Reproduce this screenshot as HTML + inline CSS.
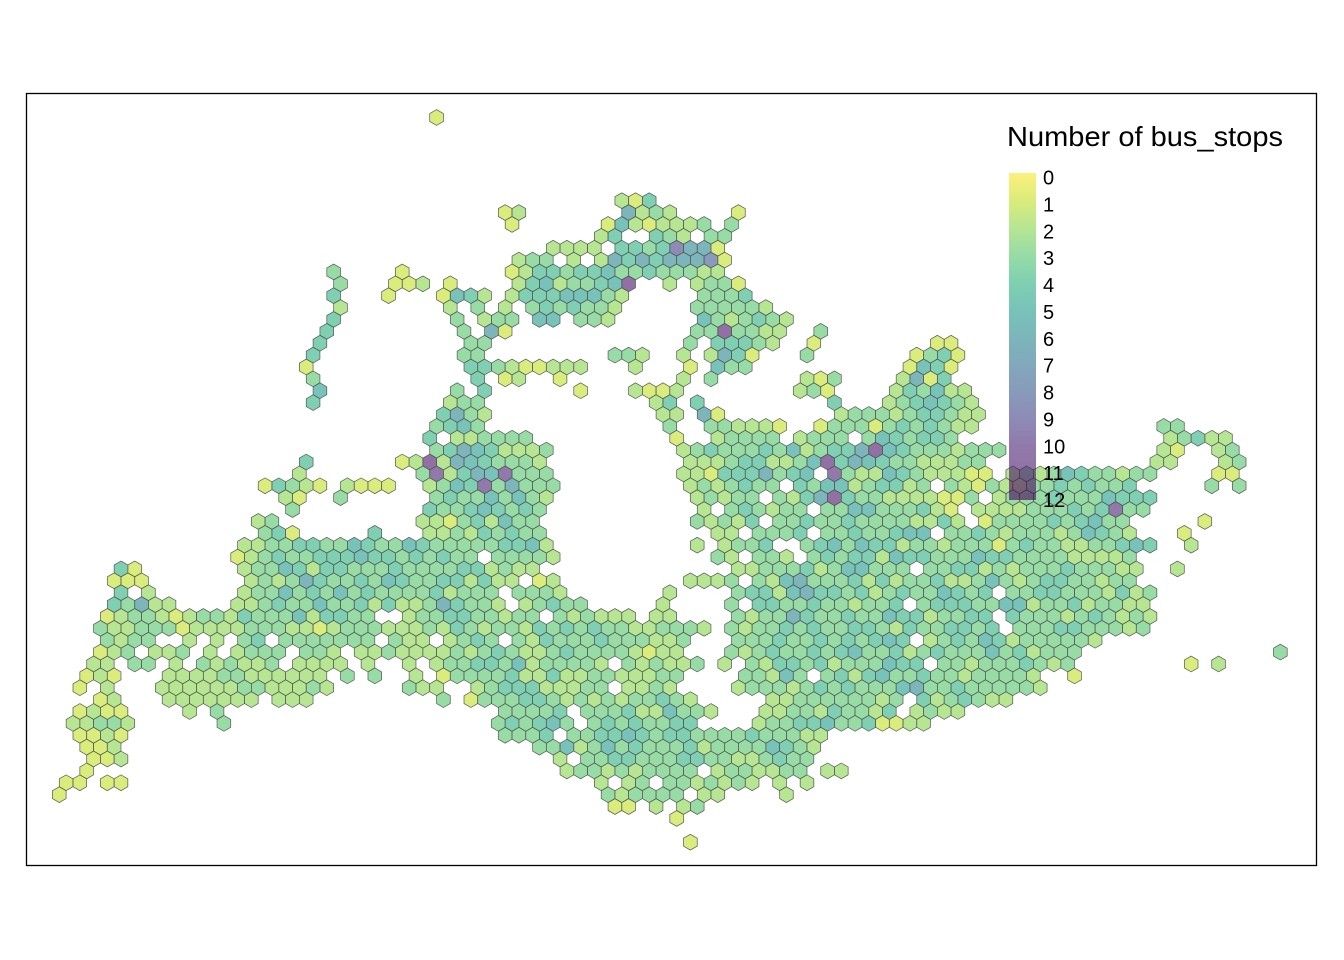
<!DOCTYPE html>
<html><head><meta charset="utf-8"><style>
html,body{margin:0;padding:0;background:#fff;}
svg{display:block;font-family:"Liberation Sans",Arial,sans-serif;}
</style></head><body>
<svg id="chart" width="1344" height="960" viewBox="0 0 1344 960">
<rect x="26.5" y="93.5" width="1290" height="772" fill="#fff" stroke="#000" stroke-width="1.3"/>
<g id="hexes"></g>
<g id="legend">
<text x="1007" y="146" font-size="27.5" textLength="276" lengthAdjust="spacingAndGlyphs" fill="#000">Number of bus_stops</text>
<defs><linearGradient id="vg" x1="0" y1="0" x2="0" y2="1"></linearGradient></defs>
<rect x="1009" y="173" width="27" height="327" fill="url(#vg)" fill-opacity="0.6"/>
<g id="legend-labels"></g>
</g>
</svg>
<script>
// hex cells: [row, startColumn, values string] ('.' = no hex, a=10, b=11, c=12)
const hexRows = [
[0,28,"1"],
[7,41,"214"],
[8,33,"12"],[8,42,"6232"],[8,50,"1"],
[9,33,"1"],[9,40,"15212223"],[9,49,"3"],
[10,40,"24"],[10,44,"432"],[10,48,"33"],
[11,36,"2222"],[11,41,"44349661"],
[12,34,"23"],[12,36,"3"],[12,38,"2"],[12,40,"2646466681"],
[13,20,"3"],[13,25,"1"],[13,33,"1244344533433322"],
[14,21,"3"],[14,25,"112"],[14,29,"1"],[14,34,"24523345b"],[14,45,"2"],[14,47,"2331"],
[15,20,"4"],[15,24,"1"],[15,28,"1542"],[15,33,"244455532"],[15,47,"3334"],
[16,21,"2"],[16,29,"2"],[16,31,"3"],[16,33,"2"],[16,35,"3434332"],[16,47,"333332"],
[17,20,"4"],[17,29,"3"],[17,31,"233"],[17,35,"55"],[17,38,"332"],[17,47,"5323432"],
[18,20,"4"],[18,30,"3"],[18,32,"61"],[18,47,"33b3322"],[18,56,"3"],
[19,19,"4"],[19,30,"33"],[19,46,"3"],[19,48,"44432"],[19,55,"1"],[19,64,"11"],
[20,19,"4"],[20,30,"33"],[20,41,"332"],[20,46,"2"],[20,48,"2641"],[20,55,"3"],[20,63,"1341"],
[21,18,"1"],[21,30,"443211222"],[21,42,"2"],[21,46,"1"],[21,48,"533"],[21,62,"1541"],
[22,19,"3"],[22,31,"4"],[22,33,"12"],[22,37,"1"],[22,46,"2"],[22,48,"3"],[22,55,"213"],[22,62,"2614"],
[23,19,"5"],[23,29,"3"],[23,31,"4"],[23,38,"1"],[23,42,"2112"],[23,54,"231"],[23,61,"243522"],
[24,19,"4"],[24,29,"233"],[24,44,"24"],[24,47,"4"],[24,57,"4"],[24,61,"2345432"],
[25,28,"4632"],[25,44,"22"],[25,47,"61"],[25,57,"23332344322"],
[26,28,"3453"],[26,45,"3"],[26,48,"332221"],[26,56,"133313434322"],[26,81,"33"],
[27,27,"4"],[27,29,"223333"],[27,45,"1"],[27,48,"23333"],[27,54,"2333"],[27,59,"3543443"],[27,81,"23422"],
[28,28,"346542223"],[28,46,"23433343523446b543332333"],[28,81,"21"],[28,85,"23"],
[29,18,"4"],[29,25,"1"],[29,26,"2b26543332"],[29,46,"2223442235b46543322233"],[29,80,"22"],[29,85,"23"],
[30,18,"2"],[30,27,"3a2465a333"],[30,46,"2214446345.a32254322211.23235433233"],[30,85,"11"],
[31,15,"14321"],[31,21,"2111"],[31,27,"2354a36333"],[31,46,"2323433.4355234423.32132233434334"],[31,84,"3"],[31,86,"3"],
[32,17,"21"],[32,21,"3"],[32,28,"343353532"],[32,47,"23233.3246b4332222113.233343335444"],
[33,17,"3"],[33,27,"433454343"],[33,47,"2.343233.3355333421.2222333434a33"],
[34,15,"23"],[34,27,"221342533"],[34,47,"32324.33433433332242.13333434533"],[34,84,"1"],
[35,15,"341"],[35,23,"4"],[35,27,"223243433"],[35,48,"22.3334.33433455.33432333235432"],[35,82,"1"],
[36,14,"22334433543354333334452"],[36,47,"2.2334..34535442332333"],[36,69,"134332233454"],[36,83,"2"],
[37,13,"123433444544343433.33332"],[37,48,"32.332.343442544333544333322223"],
[38,5,"41"],[38,14,"2335424433343333442322"],[38,50,"2233342355333.3344232333433322"],[38,82,"2"],
[39,4,"111"],[39,14,"23236433435433442422.12"],[39,46,"222"],[39,49,"3.3256333424233422353234433233"],
[40,5,"4"],[40,7,"2"],[40,14,"2335343534333342333.3332"],[40,45,"2"],[40,50,"3442564434234335434.33443332423"],
[41,4,"43622"],[41,13,"2234335334242"],[41,26,"2364332.23433"],[41,44,"2"],[41,49,"3.44334332334.34443355233423322"],
[42,4,"123321"],[42,10,"23324333524433"],[42,26,"2334433233.323222"],[42,44,"22"],[42,50,"3233643343354423344.43332343232"],
[43,3,"3223331"],[43,10,"2222333221233322"],[43,26,"2324323324343433223332"],[43,49,"32334343344324334434.3334433323"],
[44,4,"3233"],[44,10,"2"],[44,12,"2.34.3333333.32"],[44,27,"2.2343.3243334333223"],[44,50,"3334334343454.2343542333332"],
[45,3,"123"],[45,7,"223"],[45,11,"2.2333.332.2232"],[45,26,"22232343223433332122"],[45,49,"32343343453342343335342333"],[45,89,"3"],
[46,3,"22"],[46,6,"33"],[46,9,"2.323223.2222.2"],[46,26,"2.2334435233332.323223"],[46,49,"2.3244342333544.3323334323"],[46,83,"1"],[46,85,"2"],
[47,2,"121"],[47,8,"222233222222"],[47,21,"3"],[47,23,"3"],[47,26,"2.133334224223322233"],[47,50,"33253.3424533433233332"],[47,74,"1"],
[48,2,"1"],[48,4,"2"],[48,8,"2222223322232"],[48,26,"322"],[48,31,"2344422233.2232"],[48,50,"23332343433356334333332"],
[49,3,"12"],[49,8,"2222222.222"],[49,28,"3"],[49,30,"1"],[49,31,"3334432323233432"],[49,52,"2233333323.4234322"],
[50,2,"1211"],[50,10,"2"],[50,12,"3"],[50,33,"33334.3334225332"],[50,52,"2233243324.2322"],
[51,1,"22332"],[51,12,"3"],[51,32,"343453.34343344"],[51,51,"2334453341122"],
[52,2,"1121"],[52,33,"3334.3344543443333433322"],
[53,2,"112"],[53,35,"335235343334233335432"],
[54,3,"112"],[54,37,"2.33443334433223433"],
[55,2,"1"],[55,37,"2332323333.2332233.22"],
[56,1,"11"],[56,4,"11"],[56,40,"2.23.3323232.2.2"],
[57,0,"1"],[57,40,"323333.22"],[57,53,"2"],
[58,41,"11.2.23"],
[59,45,"1"],
[61,46,"1"]
];
const legendTicks = [0,1,2,3,4,5,6,7,8,9,10,11,12];
const viridis = ["#FDE725","#C2DF23","#86D549","#52C569","#2AB07F","#1E9B8A","#25858E","#2D708E","#38588C","#433E85","#482173","#471365","#440154"];

const NS = "http://www.w3.org/2000/svg";
const X0 = 52.4, DX = 13.72, Y0 = 117.5, DY = 11.88, R = 7.9;
function xPos(row, col){ return X0 + col*DX + (row % 2 ? DX/2 : 0); }
function yPos(row){ return Y0 + row*DY; }
function hexPoints(cx, cy){
  const pts = [];
  for (let i = 0; i < 6; i++){
    const a = Math.PI/180*(60*i - 90);
    pts.push((cx + R*Math.cos(a)).toFixed(2) + "," + (cy + R*Math.sin(a)).toFixed(2));
  }
  return pts.join(" ");
}
const g = document.getElementById("hexes");
hexRows.forEach(function(seg){
  const row = seg[0], start = seg[1], vals = seg[2];
  for (let i = 0; i < vals.length; i++){
    const ch = vals[i];
    if (ch === "." || ch === " ") continue;
    const v = parseInt(ch, 16);
    const p = document.createElementNS(NS, "polygon");
    p.setAttribute("points", hexPoints(xPos(row, start + i), yPos(row)));
    p.setAttribute("fill", viridis[Math.min(12, v)]);
    p.setAttribute("fill-opacity", "0.6");
    p.setAttribute("stroke", "#555");
    p.setAttribute("stroke-width", "0.7");
    
    
    g.appendChild(p);
  }
});
const grad = document.getElementById("vg");
viridis.forEach(function(c, i){
  const s = document.createElementNS(NS, "stop");
  s.setAttribute("offset", (i/12*100).toFixed(1) + "%");
  s.setAttribute("stop-color", c);
  grad.appendChild(s);
});
const lg = document.getElementById("legend-labels");
const barTop = 177.5, barBottom = 500;
legendTicks.forEach(function(t){
  const tx = document.createElementNS(NS, "text");
  tx.setAttribute("x", 1043);
  tx.setAttribute("y", barTop + (barBottom - barTop)*t/12 + 7);
  tx.setAttribute("font-size", "20");
  tx.setAttribute("fill", "#000");
  tx.textContent = String(t);
  
  
  lg.appendChild(tx);
});
</script>
</body></html>
